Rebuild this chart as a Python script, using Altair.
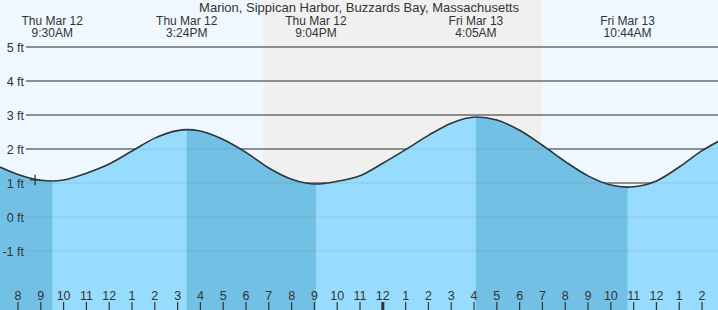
import altair as alt
import pandas as pd

# ---- data (hours since Thu 00:00, feet) ----
tide_hours = [7.21, 8, 9, 9.5, 10, 11, 12, 13, 14, 15, 15.4, 16, 17, 18, 19, 20, 21.067,
              22, 23, 24, 25, 26, 27, 28.083, 29, 30, 31, 32, 33, 34, 34.733, 35, 36, 37, 38, 38.75]
tide_feet = [1.47, 1.25, 1.08, 1.06, 1.09, 1.29, 1.56, 1.94, 2.32, 2.54, 2.57, 2.53, 2.28, 1.90, 1.44, 1.11, 0.97,
             1.05, 1.21, 1.58, 1.98, 2.40, 2.76, 2.94, 2.85, 2.55, 2.11, 1.63, 1.21, 0.94, 0.88, 0.89, 1.06, 1.47, 1.95, 2.24]

extreme_hours = [9.5, 15.4, 21.067, 28.083, 34.733]
extreme_days = ["Thu Mar 12", "Thu Mar 12", "Thu Mar 12", "Fri Mar 13", "Fri Mar 13"]
extreme_times = ["9:30AM", "3:24PM", "9:04PM", "4:05AM", "10:44AM"]

falling_segments = [(7.21, 9.5), (15.4, 21.067), (28.083, 34.733)]
night = (18.75, 30.94)

grid_feet = [5, 4, 3, 2, 1, 0, -1]
grid_labels = ["5 ft", "4 ft", "3 ft", "2 ft", "1 ft", "0 ft", "-1 ft"]

hour_ticks = list(range(8, 39))
hour_labels = [str((h - 1) % 12 + 1) for h in hour_ticks]

now_hour, now_feet = 8.75, 1.09

title = "Marion, Sippican Harbor, Buzzards Bay, Massachusetts"

X_DOMAIN = [7.2105, 38.70]
Y_DOMAIN = [-2.735, 6.382]
W, H = 718, 310

FONT = "Liberation Sans"
TXT = "#333333"

tide = pd.DataFrame({"h": tide_hours, "ft": tide_feet})
tide["base"] = Y_DOMAIN[0]
rows = []
for i, (a, b) in enumerate(falling_segments):
    for h, f in zip(tide_hours, tide_feet):
        if a - 1e-3 <= h <= b + 1e-3:
            rows.append({"h": h, "ft": f, "seg": i, "base": Y_DOMAIN[0]})
dark = pd.DataFrame(rows)

xs = alt.Scale(domain=X_DOMAIN, nice=False, zero=False)
ys = alt.Scale(domain=Y_DOMAIN, nice=False, zero=False)


def X(field="h"):
    return alt.X(f"{field}:Q", scale=xs, axis=None)


def Y(field="ft"):
    return alt.Y(f"{field}:Q", scale=ys, axis=None, stack=None)


night_layer = alt.Chart(pd.DataFrame({"a": [night[0]], "b": [night[1]]})).mark_rect(
    color="#f0f0f0"
).encode(x=X("a"), x2="b:Q", y=alt.value(0), y2=alt.value(H))

grid_df = pd.DataFrame({"v": grid_feet, "lab": grid_labels})
grid_layer = alt.Chart(grid_df).mark_rule(color="#333333", strokeWidth=1.2).encode(
    x=alt.value(26), x2=alt.value(W), y=Y("v")
)
grid_over = alt.Chart(grid_df).mark_rule(color="#333333", strokeWidth=1.2, opacity=0.1).encode(
    x=alt.value(26), x2=alt.value(W), y=Y("v")
)
grid_text = alt.Chart(grid_df).mark_text(
    align="right", baseline="middle", font=FONT, fontSize=12.5, color=TXT, dy=1
).encode(x=alt.value(24), y=Y("v"), text="lab:N")

water_light = alt.Chart(tide).mark_area(color="#97dcfd", interpolate="monotone", clip=True).encode(
    x=X(), y=Y(), y2="base:Q"
)
water_dark = alt.Chart(dark).mark_area(color="#72c1e5", interpolate="monotone", clip=True).encode(
    x=X(), y=Y(), y2="base:Q", detail="seg:N"
)
curve = alt.Chart(tide).mark_line(color="#333333", strokeWidth=1.6, interpolate="monotone", clip=True).encode(
    x=X(), y=Y()
)

marker = alt.Chart(pd.DataFrame({"h": [now_hour], "ft": [now_feet]})).mark_point(
    shape="M-1,0L1,0M0,-1L0,1", size=110, filled=False, color="#333333", strokeWidth=1.3, opacity=1
).encode(x=X(), y=Y())

ext_df = pd.DataFrame({"h": extreme_hours, "day": extreme_days, "t": extreme_times})
ext_day = alt.Chart(ext_df).mark_text(
    align="center", baseline="alphabetic", font=FONT, fontSize=12, color=TXT
).encode(x=X(), y=alt.value(24.5), text="day:N")
ext_time = alt.Chart(ext_df).mark_text(
    align="center", baseline="alphabetic", font=FONT, fontSize=12, color=TXT
).encode(x=X(), y=alt.value(36.5), text="t:N")

title_layer = alt.Chart(pd.DataFrame({"t": [title]})).mark_text(
    align="center", baseline="alphabetic", font=FONT, fontSize=13, color=TXT
).encode(x=alt.value(359), y=alt.value(12), text="t:N")

hours_df = pd.DataFrame({"h": hour_ticks, "lab": hour_labels,
                         "w": [3 if h == 24 else 1.2 for h in hour_ticks]})
tick_layer = alt.Chart(hours_df).mark_rule(color="#333333").encode(
    x=X(), y=alt.value(302), y2=alt.value(H), strokeWidth=alt.StrokeWidth("w:Q", scale=None, legend=None)
)
hour_text = alt.Chart(hours_df).mark_text(
    align="center", baseline="alphabetic", font=FONT, fontSize=12.5, color=TXT
).encode(x=X(), y=alt.value(300), text="lab:N")

chart = alt.layer(
    night_layer, grid_layer, water_light, water_dark, grid_over, curve, marker,
    grid_text, ext_day, ext_time, title_layer, tick_layer, hour_text
).properties(
    width=W, height=H, background="#eff8ff", padding=0,
    autosize=alt.AutoSizeParams(type="none")
).configure_view(stroke=None)

chart.save("out.html", embed_options={"renderer": "svg", "actions": False})
